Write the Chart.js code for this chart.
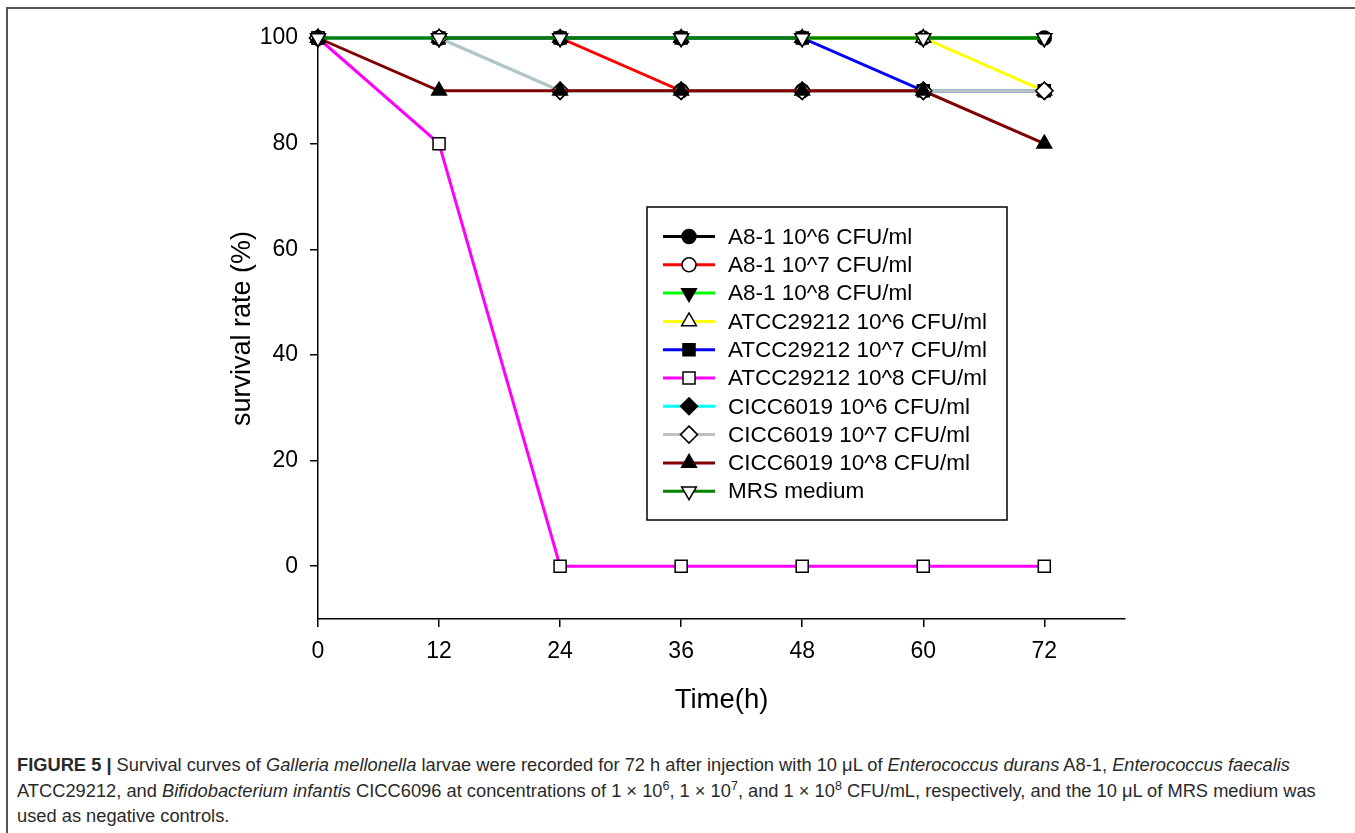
<!DOCTYPE html>
<html>
<head>
<meta charset="utf-8">
<script src="https://cdn.jsdelivr.net/npm/chart.js@4.4.1/dist/chart.umd.min.js"></script>
<style>
  html, body { margin: 0; padding: 0; background: #fff; }
  body { width: 1355px; height: 833px; position: relative; overflow: hidden; }
  #frame { position: absolute; left: 6px; top: 7px; width: 1420px; height: 900px;
           border-top: 2px solid #555; border-left: 2px solid #555; }
  #wrap { position: absolute; left: 0; top: 0; width: 1355px; height: 740px; }
  #caption { position: absolute; left: 17px; top: 752px; width: 1335px;
             font-family: "Liberation Sans", Arial, sans-serif;
             font-size: 18.3px; line-height: 25.5px; color: #2a2a2a; white-space: nowrap; }
  #caption b { font-weight: bold; }
  #caption sup { font-size: 12.5px; line-height: 0; vertical-align: 7px; }
</style>
</head>
<body>
<div id="frame"></div>
<div id="wrap"><canvas id="c"></canvas></div>
<div id="caption"><b>FIGURE 5 |</b> Survival curves of <i>Galleria mellonella</i> larvae were recorded for 72 h after injection with 10 μL of <i>Enterococcus durans</i> A8-1, <i>Enterococcus faecalis</i><br>ATCC29212, and <i>Bifidobacterium infantis</i> CICC6096 at concentrations of 1 × 10<sup>6</sup>, 1 × 10<sup>7</sup>, and 1 × 10<sup>8</sup> CFU/mL, respectively, and the 10 μL of MRS medium was<br>used as negative controls.</div>
<script>
// ---- data ----
const timesH = [0, 12, 24, 36, 48, 60, 72];
const xTickLabels = [0, 12, 24, 36, 48, 60, 72];
const yTickLabels = [0, 20, 40, 60, 80, 100];

const a81_1e6   = [100, 100, 100, 100, 100, 100, 100];
const a81_1e7   = [100, 100, 100, 90, 90, 90, 90];
const a81_1e8   = [100, 100, 100, 100, 100, 100, 100];
const atcc_1e6  = [100, 100, 100, 100, 100, 100, 90];
const atcc_1e7  = [100, 100, 100, 100, 100, 90, 90];
const atcc_1e8  = [100, 80, 0, 0, 0, 0, 0];
const cicc_1e6  = [100, 100, 90, 90, 90, 90, 90];
const cicc_1e7  = [100, 100, 90, 90, 90, 90, 90];
const cicc_1e8  = [100, 90, 90, 90, 90, 90, 80];
const mrs       = [100, 100, 100, 100, 100, 100, 100];

const seriesNames = [
  "A8-1 10^6 CFU/ml", "A8-1 10^7 CFU/ml", "A8-1 10^8 CFU/ml",
  "ATCC29212 10^6 CFU/ml", "ATCC29212 10^7 CFU/ml", "ATCC29212 10^8 CFU/ml",
  "CICC6019 10^6 CFU/ml", "CICC6019 10^7 CFU/ml", "CICC6019 10^8 CFU/ml",
  "MRS medium"
];
const seriesValues = [a81_1e6, a81_1e7, a81_1e8, atcc_1e6, atcc_1e7, atcc_1e8, cicc_1e6, cicc_1e7, cicc_1e8, mrs];

// ---- styles ----
const lineColors = ["#000000", "#ff0000", "#00ff00", "#ffff00", "#0000ff", "#ff00ff", "#00ffff", "#c0c0c0", "#800000", "#008000"];
const markerShapes = ["circle", "circle", "triangle", "triangle", "rect", "rect", "rectRot", "rectRot", "triangle", "triangle"];
const markerFill = ["#000", "#fff", "#000", "#fff", "#000", "#fff", "#000", "#fff", "#000", "#fff"];
const markerRot = [0, 0, 180, 0, 0, 0, 0, 0, 0, 180];
const markerRadius = [7, 7, 8.5, 8.5, 8.5, 8.5, 8.5, 8.5, 8.5, 8.5];

const FONT = '"Liberation Sans", Arial, sans-serif';

const datasets = seriesNames.map((name, i) => ({
  label: name,
  data: timesH.map((t, k) => ({ x: t, y: seriesValues[i][k] })),
  borderColor: lineColors[i],
  borderWidth: 3,
  backgroundColor: lineColors[i],
  pointStyle: markerShapes[i],
  pointRotation: markerRot[i],
  pointRadius: markerRadius[i],
  pointBackgroundColor: markerFill[i],
  pointBorderColor: "#000",
  pointBorderWidth: 1.5,
  tension: 0,
  clip: false,
  order: seriesNames.length - 1 - i
}));

function drawMarker(ctx, shape, x, y, r, rot, fill) {
  ctx.save();
  ctx.translate(x, y);
  ctx.rotate(rot * Math.PI / 180);
  ctx.beginPath();
  if (shape === "circle") {
    ctx.arc(0, 0, r, 0, Math.PI * 2);
  } else if (shape === "rect") {
    const s = Math.SQRT1_2 * r;
    ctx.rect(-s, -s, 2 * s, 2 * s);
  } else if (shape === "rectRot") {
    ctx.moveTo(0, -r); ctx.lineTo(r, 0); ctx.lineTo(0, r); ctx.lineTo(-r, 0); ctx.closePath();
  } else if (shape === "triangle") {
    for (let k = 0; k < 3; k++) {
      const a = k * 2 * Math.PI / 3;
      const px = Math.sin(a) * r, py = -Math.cos(a) * r;
      if (k === 0) ctx.moveTo(px, py); else ctx.lineTo(px, py);
    }
    ctx.closePath();
  }
  ctx.fillStyle = fill;
  ctx.fill();
  ctx.lineWidth = 1.5;
  ctx.strokeStyle = "#000";
  ctx.stroke();
  ctx.restore();
}

const overlay = {
  id: "overlay",
  afterDraw(chart) {
    const ctx = chart.ctx;
    const ca = chart.chartArea;
    ctx.save();
    // axis titles
    ctx.fillStyle = "#000";
    ctx.font = "27.5px " + FONT;
    ctx.textAlign = "center";
    ctx.textBaseline = "middle";
    ctx.fillText("Time(h)", (ca.left + ca.right) / 2, ca.bottom + 81);
    ctx.save();
    ctx.translate(ca.left - 75, (ca.top + ca.bottom) / 2);
    ctx.rotate(-Math.PI / 2);
    ctx.font = "27px " + FONT;
    ctx.fillText("survival rate (%)", 0, 0);
    ctx.restore();

    // legend box
    const bx = 647, by = 207, bw = 360, bh = 313;
    ctx.lineWidth = 1.5;
    ctx.strokeStyle = "#000";
    ctx.strokeRect(bx, by, bw, bh);
    const rowH = 28.3;
    ctx.font = "22.5px " + FONT;
    ctx.textAlign = "left";
    ctx.textBaseline = "middle";
    seriesNames.forEach((name, i) => {
      const y = 236.5 + i * rowH;
      ctx.beginPath();
      ctx.moveTo(663, y); ctx.lineTo(715, y);
      ctx.strokeStyle = lineColors[i];
      ctx.lineWidth = 3;
      ctx.stroke();
      drawMarker(ctx, markerShapes[i], 689, y, markerRadius[i], markerRot[i], markerFill[i]);
      ctx.fillStyle = "#000";
      ctx.fillText(name, 728, y + 1);
    });
    ctx.restore();
  }
};

new Chart(document.getElementById("c"), {
  type: "line",
  data: { datasets },
  options: {
    responsive: true,
    maintainAspectRatio: false,
    animation: false,
    layout: { padding: { top: 38, right: 230, bottom: 0, left: 0 } },
    plugins: { legend: { display: false }, tooltip: { enabled: false } },
    scales: {
      x: {
        type: "linear",
        min: 0, max: 80,
        afterBuildTicks: (s) => { s.ticks = xTickLabels.map(v => ({ value: v })); },
        afterFit: (s) => { s.height = 121; },
        grid: { drawOnChartArea: false, drawTicks: true, tickLength: 8, color: "#000", lineWidth: 1.5 },
        border: { display: true, color: "#000", width: 1.5 },
        ticks: { color: "#000", font: { family: FONT, size: 23 }, padding: 11, maxRotation: 0, autoSkip: false }
      },
      y: {
        type: "linear",
        min: -10, max: 100,
        afterBuildTicks: (s) => { s.ticks = yTickLabels.map(v => ({ value: v })); },
        afterFit: (s) => { s.width = 318; },
        grid: { drawOnChartArea: false, drawTicks: true, tickLength: 8, color: "#000", lineWidth: 1.5 },
        border: { display: true, color: "#000", width: 1.5 },
        ticks: { color: "#000", font: { family: FONT, size: 23 }, padding: 12, autoSkip: false }
      }
    }
  },
  plugins: [overlay]
});
</script>
</body>
</html>
